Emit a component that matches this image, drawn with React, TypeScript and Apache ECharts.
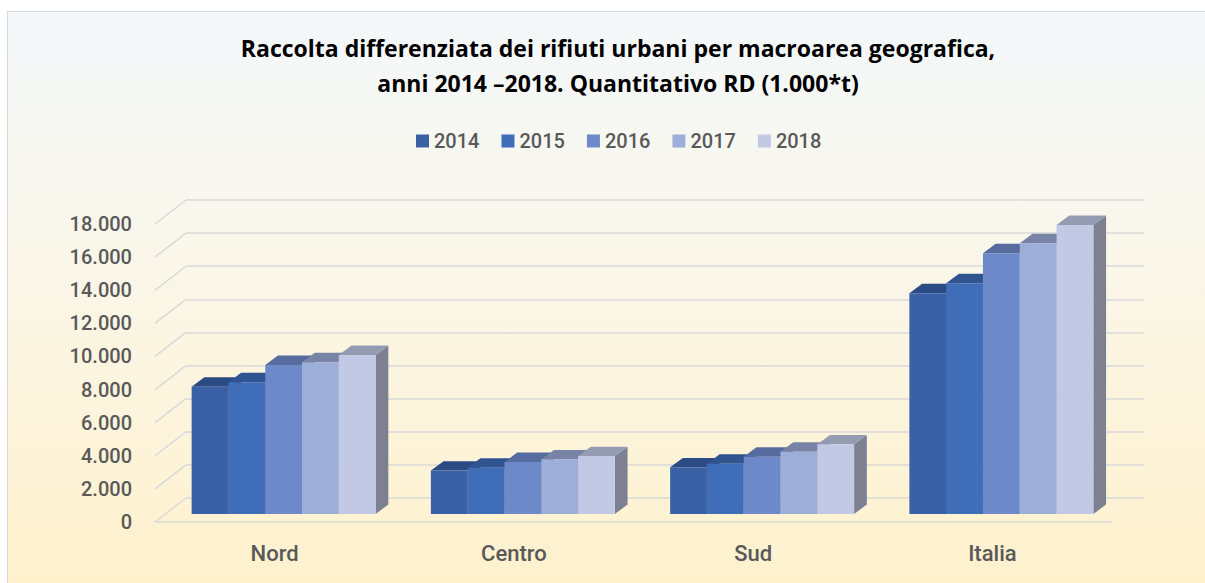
import React, { useEffect, useRef } from "react";
import * as echarts from "echarts";

const categories = ["Nord", "Centro", "Sud", "Italia"];
const years = ["2014", "2015", "2016", "2017", "2018"];
// values in 1.000 t, order: Nord, Centro, Sud, Italia
const v2014 = [7690, 2620, 2820, 13340];
const v2015 = [7960, 2800, 3040, 13940];
const v2016 = [9000, 3140, 3460, 15750];
const v2017 = [9165, 3300, 3760, 16360];
const v2018 = [9610, 3500, 4210, 17460];
const yearValues = [v2014, v2015, v2016, v2017, v2018];
const yTicks = [0, 2000, 4000, 6000, 8000, 10000, 12000, 14000, 16000, 18000];

const frontColors = ["#3A60A5", "#3F6DB8", "#6E89C9", "#9DAED9", "#C2C9E5"];
const topColors = ["#2C4A84", "#30548F", "#566C9E", "#7884A6", "#939CB0"];
const sideColors = ["#26406F", "#2B4A80", "#4A5D8A", "#687390", "#7C8091"];

const FONT = "Roboto, 'Noto Sans', sans-serif";
const GRID_LINE = "#d9d9d9";
const DEPTH = [31, -24];
const BAR_DEPTH = [12.7, -9.4];
const GROUP_RATIO = 0.769;

const fmt = (v: number) => String(v).replace(/\B(?=(\d{3})+(?!\d))/g, ".");

export default function App() {
  const ref = useRef<HTMLDivElement>(null);
  useEffect(() => {
    if (!ref.current) return;
    const chart = echarts.init(ref.current, null, { renderer: "svg" });

    const barSeries = years.map((y, yi) => ({
      name: y,
      type: "custom",
      xAxisIndex: 2,
      yAxisIndex: 2,
      itemStyle: { color: frontColors[yi] },
      encode: { x: 0, y: 1 },
      data: yearValues[yi].map((v, ci) => [ci, v]),
      z: 3,
      renderItem: (params: any, api: any) => {
        const ci = api.value(0);
        const val = api.value(1);
        const base = api.coord([ci, 0]);
        const top = api.coord([ci, val]);
        const band = api.size([1, 0])[0];
        const groupW = band * GROUP_RATIO;
        const barW = groupW / years.length;
        const x0 = base[0] - groupW / 2 + yi * barW;
        const x1 = x0 + barW;
        const yb = base[1];
        const yt = top[1];
        const [dx, dy] = BAR_DEPTH;
        return {
          type: "group",
          children: [
            {
              type: "polygon",
              shape: { points: [[x1, yb], [x1 + dx, yb + dy], [x1 + dx, yt + dy], [x1, yt]] },
              style: { fill: sideColors[yi] },
            },
            {
              type: "polygon",
              shape: { points: [[x0, yt], [x0 + dx, yt + dy], [x1 + dx, yt + dy], [x1, yt]] },
              style: { fill: topColors[yi] },
            },
            {
              type: "rect",
              shape: { x: x0, y: yt, width: barW, height: yb - yt },
              style: { fill: frontColors[yi] },
            },
          ],
        };
      },
    }));

    const wallSeries = {
      name: "wall",
      type: "custom",
      xAxisIndex: 0,
      yAxisIndex: 0,
      silent: true,
      z: 1,
      data: yTicks.map((t) => [0, t]),
      renderItem: (params: any, api: any) => {
        const p = api.coord([0, api.value(1)]);
        const x = params.coordSys.x;
        return {
          type: "line",
          shape: { x1: x, y1: p[1], x2: x + DEPTH[0], y2: p[1] + DEPTH[1] },
          style: { stroke: GRID_LINE, lineWidth: 1.5 },
        };
      },
    };

    const hiddenY = { type: "value", min: 0, max: 18000, interval: 2000 };

    chart.setOption({
      animation: false,
      title: {
        text: "Raccolta differenziata dei rifiuti urbani per macroarea geografica,\nanni 2014 –2018. Quantitativo RD (1.000*t)",
        left: 613,
        textAlign: "center",
        top: 25,
        textStyle: {
          fontFamily: "'Open Sans', sans-serif",
          fontWeight: "bold",
          fontSize: 23,
          lineHeight: 35,
          color: "#000000",
        },
      },
      legend: {
        data: years,
        left: 411,
        top: 126,
        itemWidth: 13,
        itemHeight: 13,
        itemGap: 22,
        icon: "rect",
        textStyle: { fontFamily: FONT, fontSize: 20, fontWeight: 500, color: "#595959" },
      },
      grid: [
        { left: 155, top: 224, width: 957, height: 298 },
        { left: 186, top: 200, width: 958, height: 298 },
        { left: 164, top: 216, width: 957, height: 298 },
      ],
      xAxis: [
        {
          gridIndex: 0,
          type: "category",
          data: categories,
          axisLine: { show: true, lineStyle: { color: GRID_LINE, width: 1.5 } },
          axisTick: { show: false },
          axisLabel: { margin: 20, fontFamily: FONT, fontSize: 22, fontWeight: 500, color: "#595959" },
        },
        { gridIndex: 1, type: "category", data: categories, show: false },
        { gridIndex: 2, type: "category", data: categories, show: false },
      ],
      yAxis: [
        {
          gridIndex: 0,
          ...hiddenY,
          axisLine: { show: false },
          axisTick: { show: false },
          splitLine: { show: false },
          axisLabel: { margin: 23, formatter: fmt, fontFamily: FONT, fontSize: 20, fontWeight: 500, color: "#595959" },
        },
        {
          gridIndex: 1,
          ...hiddenY,
          axisLine: { show: false },
          axisTick: { show: false },
          axisLabel: { show: false },
          splitLine: { show: true, lineStyle: { color: GRID_LINE, width: 1.5 } },
        },
        { gridIndex: 2, ...hiddenY, show: false },
      ],
      series: [wallSeries, ...barSeries],
    });
    return () => chart.dispose();
  }, []);

  return (
    <div style={{ position: "fixed", left: 0, top: 0, width: 1205, height: 583, overflow: "hidden", background: "#ffffff" }}>
      <div
        style={{
          position: "absolute",
          left: 7,
          top: 11,
          width: 1215,
          height: 590,
          border: "1px solid #d9d9d9",
          background: "linear-gradient(to bottom, #f4f8fb 0%, #faf6e8 45%, #fff1cb 100%)",
        }}
      />
      <div ref={ref} style={{ position: "absolute", left: 0, top: 0, width: 1205, height: 583 }} />
    </div>
  );
}
